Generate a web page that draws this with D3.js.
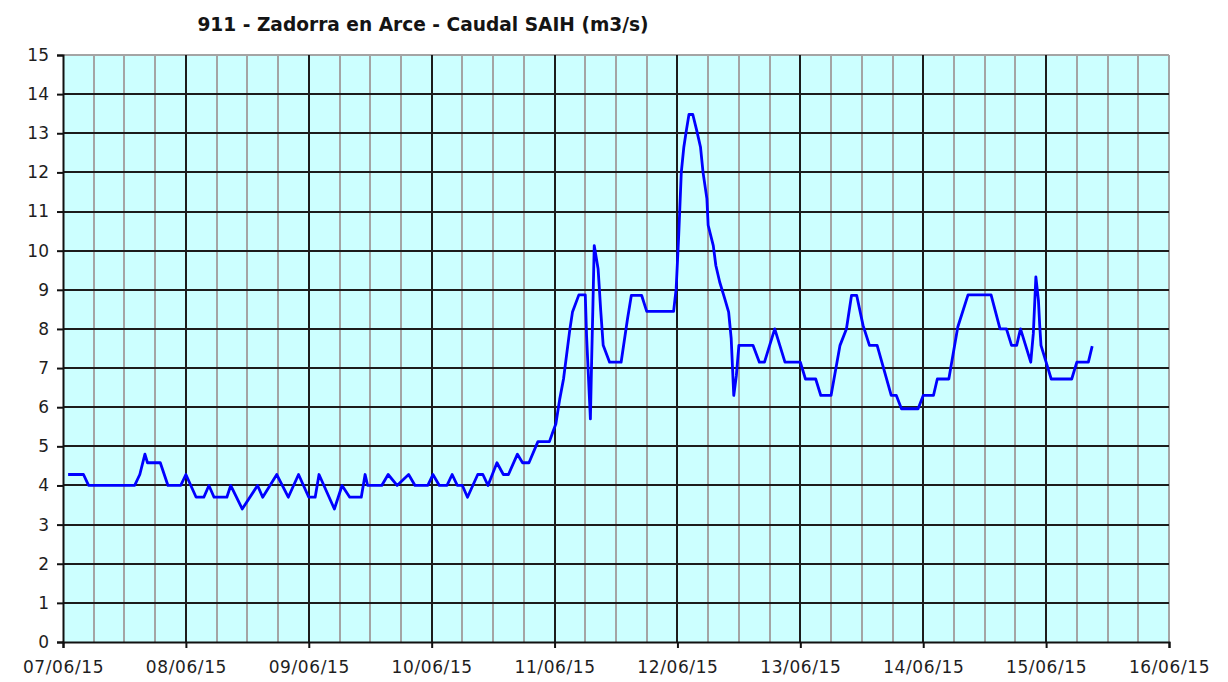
<!DOCTYPE html>
<html>
<head>
<meta charset="utf-8">
<script src="https://cdn.jsdelivr.net/npm/d3@7"></script>
<style>
  body { margin: 0; background: #ffffff; }
  .tick text { font-family: "DejaVu Sans", Verdana, sans-serif; font-size: 17px; fill: #1e1e1e; }
  .xAxis .tick text { letter-spacing: 0.6px; }
</style>
</head>
<body>
<div id="chart"></div>
<script>
// caudal readings (time, m3/s)
var times = [
  "07/06/15 01:00", "07/06/15 04:00", "07/06/15 05:00", "07/06/15 14:00", "07/06/15 15:00",
  "07/06/15 16:00", "07/06/15 16:30", "07/06/15 19:00", "07/06/15 20:30", "07/06/15 23:00",
  "08/06/15 00:00", "08/06/15 02:00", "08/06/15 03:30", "08/06/15 04:30", "08/06/15 05:30",
  "08/06/15 08:00", "08/06/15 08:45", "08/06/15 11:00", "08/06/15 14:00", "08/06/15 15:00",
  "08/06/15 17:45", "08/06/15 20:00", "08/06/15 22:00", "09/06/15 00:00", "09/06/15 01:15",
  "09/06/15 02:00", "09/06/15 05:00", "09/06/15 06:30", "09/06/15 08:00", "09/06/15 10:15",
  "09/06/15 11:00", "09/06/15 11:30", "09/06/15 14:15", "09/06/15 15:30", "09/06/15 17:15",
  "09/06/15 19:30", "09/06/15 20:45", "09/06/15 23:15", "10/06/15 00:15", "10/06/15 01:30",
  "10/06/15 03:00", "10/06/15 04:00", "10/06/15 05:00", "10/06/15 06:00", "10/06/15 07:00",
  "10/06/15 09:00", "10/06/15 10:00", "10/06/15 11:00", "10/06/15 12:45", "10/06/15 14:00",
  "10/06/15 15:00", "10/06/15 16:45", "10/06/15 17:45", "10/06/15 19:00", "10/06/15 20:45",
  "10/06/15 23:00", "10/06/15 23:45", "11/06/15 00:15", "11/06/15 01:00", "11/06/15 01:45",
  "11/06/15 03:00", "11/06/15 03:30", "11/06/15 04:45", "11/06/15 06:00", "11/06/15 06:15",
  "11/06/15 07:00", "11/06/15 07:15", "11/06/15 07:30", "11/06/15 07:45", "11/06/15 08:30",
  "11/06/15 08:45", "11/06/15 09:00", "11/06/15 09:30", "11/06/15 10:45", "11/06/15 13:00",
  "11/06/15 14:15", "11/06/15 15:00", "11/06/15 17:00", "11/06/15 18:00", "11/06/15 23:15",
  "11/06/15 23:45", "12/06/15 00:15", "12/06/15 00:45", "12/06/15 01:15", "12/06/15 01:45",
  "12/06/15 02:15", "12/06/15 03:00", "12/06/15 03:45", "12/06/15 04:30", "12/06/15 05:00",
  "12/06/15 05:45", "12/06/15 06:00", "12/06/15 07:00", "12/06/15 07:30", "12/06/15 08:15",
  "12/06/15 09:15", "12/06/15 10:00", "12/06/15 10:30", "12/06/15 11:00", "12/06/15 11:30",
  "12/06/15 12:00", "12/06/15 14:45", "12/06/15 16:00", "12/06/15 17:00", "12/06/15 19:00",
  "12/06/15 21:00", "13/06/15 00:00", "13/06/15 01:00", "13/06/15 03:00", "13/06/15 04:00",
  "13/06/15 06:00", "13/06/15 07:45", "13/06/15 09:00", "13/06/15 10:00", "13/06/15 11:00",
  "13/06/15 12:15", "13/06/15 13:30", "13/06/15 15:00", "13/06/15 17:45", "13/06/15 18:45",
  "13/06/15 19:45", "13/06/15 23:00", "14/06/15 00:00", "14/06/15 02:00", "14/06/15 02:45",
  "14/06/15 05:00", "14/06/15 06:45", "14/06/15 08:45", "14/06/15 13:15", "14/06/15 15:00",
  "14/06/15 16:15", "14/06/15 17:15", "14/06/15 18:15", "14/06/15 19:00", "14/06/15 21:00",
  "14/06/15 21:30", "14/06/15 21:45", "14/06/15 22:00", "14/06/15 22:30", "14/06/15 22:45",
  "14/06/15 23:00", "15/06/15 00:00", "15/06/15 01:00", "15/06/15 05:00", "15/06/15 06:00",
  "15/06/15 08:15", "15/06/15 09:00"
];
var caudal = [
  4.28, 4.28, 4.0, 4.0, 4.28,
  4.8, 4.58, 4.58, 4.0, 4.0,
  4.28, 3.7, 3.7, 4.0, 3.7,
  3.7, 4.0, 3.4, 4.0, 3.7,
  4.28, 3.7, 4.28, 3.7, 3.7,
  4.28, 3.4, 4.0, 3.7, 3.7,
  4.28, 4.0, 4.0, 4.28, 4.0,
  4.28, 4.0, 4.0, 4.28, 4.0,
  4.0, 4.28, 4.0, 4.0, 3.7,
  4.28, 4.28, 4.0, 4.58, 4.28,
  4.28, 4.8, 4.58, 4.58, 5.12,
  5.12, 5.4, 5.57, 6.2, 6.72,
  8.0, 8.43, 8.87, 8.87, 7.83,
  5.7, 7.24, 8.64, 10.13, 9.54,
  9.03, 8.5, 7.58, 7.15, 7.15,
  8.26, 8.86, 8.86, 8.45, 8.45,
  9.03, 10.4, 12.0, 12.65, 13.08,
  13.48, 13.48, 13.08, 12.65, 12.0,
  11.33, 10.65, 10.13, 9.62, 9.2,
  8.77, 8.43, 7.75, 6.3, 6.8,
  7.58, 7.58, 7.15, 7.15, 8.0,
  7.15, 7.15, 6.72, 6.72, 6.3,
  6.3, 7.58, 8.0, 8.86, 8.86,
  8.09, 7.58, 7.58, 6.3, 6.3,
  5.96, 5.96, 6.3, 6.3, 6.72,
  6.72, 8.05, 8.87, 8.87, 8.0,
  8.0, 7.58, 7.58, 8.0, 7.15,
  7.88, 8.6, 9.33, 8.73, 8.09,
  7.58, 7.15, 6.72, 6.72, 7.15,
  7.15, 7.56
];
var dayTicks = ["07/06/15", "08/06/15", "09/06/15", "10/06/15", "11/06/15",
  "12/06/15", "13/06/15", "14/06/15", "15/06/15", "16/06/15"];
var yTicks = [0, 1, 2, 3, 4, 5, 6, 7, 8, 9, 10, 11, 12, 13, 14, 15];

var width = 1228;
var height = 682;
var margin = { top: 55, right: 59, bottom: 40, left: 63 };
var plotW = width - margin.left - margin.right;
var plotH = height - margin.top - margin.bottom;

var parseTime = d3.timeParse("%d/%m/%y %H:%M");
var parseDay = d3.timeParse("%d/%m/%y");

var data = times.map(function (t, i) {
  return { t: parseTime(t), v: caudal[i] };
});
var days = dayTicks.map(function (d) { return parseDay(d); });

var svg = d3.select("#chart")
  .append("svg")
  .attr("width", width)
  .attr("height", height);

var xScale = d3.scaleTime()
  .domain([days[0], days[days.length - 1]])
  .range([margin.left, width - margin.right]);

var yScale = d3.scaleLinear()
  .domain([0, 15])
  .range([height - margin.bottom, margin.top]);

// plot background
svg.append("rect")
  .attr("x", margin.left)
  .attr("y", margin.top)
  .attr("width", plotW)
  .attr("height", plotH)
  .attr("fill", "#ccffff");

// minor grid every 6 hours, plus the top/right frame in gray
var minor = d3.timeHour.every(6).range(days[0], days[days.length - 1])
  .filter(function (d) { return d.getHours() !== 0; });
minor.push(days[days.length - 1]);
svg.append("g")
  .selectAll("line")
  .data(minor)
  .enter()
  .append("line")
  .attr("x1", function (d) { return Math.round(xScale(d)); })
  .attr("x2", function (d) { return Math.round(xScale(d)); })
  .attr("y1", margin.top)
  .attr("y2", height - margin.bottom)
  .attr("stroke", "#a4a4a4")
  .attr("stroke-width", 2);

svg.append("line")
  .attr("x1", margin.left)
  .attr("x2", width - margin.right)
  .attr("y1", Math.round(yScale(15)))
  .attr("y2", Math.round(yScale(15)))
  .attr("stroke", "#a4a4a4")
  .attr("stroke-width", 2);

// major grid
svg.append("g")
  .selectAll("line")
  .data(days.slice(1, days.length - 1))
  .enter()
  .append("line")
  .attr("x1", function (d) { return Math.round(xScale(d)); })
  .attr("x2", function (d) { return Math.round(xScale(d)); })
  .attr("y1", margin.top)
  .attr("y2", height - margin.bottom)
  .attr("stroke", "#1c1c1c")
  .attr("stroke-width", 2);

svg.append("g")
  .selectAll("line")
  .data(yTicks.slice(1, yTicks.length - 1))
  .enter()
  .append("line")
  .attr("x1", margin.left)
  .attr("x2", width - margin.right)
  .attr("y1", function (d) { return Math.round(yScale(d)); })
  .attr("y2", function (d) { return Math.round(yScale(d)); })
  .attr("stroke", "#1c1c1c")
  .attr("stroke-width", 2);

// axes
var xAxis = d3.axisBottom(xScale)
  .tickValues(days)
  .tickSize(6)
  .tickPadding(13)
  .tickFormat(d3.timeFormat("%d/%m/%y"));

var yAxis = d3.axisLeft(yScale)
  .tickValues(yTicks)
  .tickSize(6)
  .tickPadding(8)
  .tickFormat(d3.format("d"));

function styleAxis(g) {
  g.select(".domain").attr("stroke", "#111").attr("stroke-width", 2);
  g.selectAll(".tick line").attr("stroke", "#111").attr("stroke-width", 2);
}

svg.append("g")
  .attr("class", "xAxis")
  .attr("transform", `translate(0, ${height - margin.bottom})`)
  .call(xAxis)
  .call(styleAxis);

svg.append("g")
  .attr("class", "yAxis")
  .attr("transform", `translate(${margin.left}, 0)`)
  .call(yAxis)
  .call(styleAxis);

// the caudal line
var line = d3.line()
  .x(function (d) { return xScale(d.t); })
  .y(function (d) { return yScale(d.v); });

svg.append("path")
  .datum(data)
  .attr("fill", "none")
  .attr("stroke", "#0000ff")
  .attr("stroke-width", 2.8)
  .attr("stroke-linejoin", "round")
  .attr("d", line);

// title
svg.append("text")
  .attr("x", 423)
  .attr("y", 31)
  .attr("text-anchor", "middle")
  .attr("font-family", "DejaVu Sans, Verdana, sans-serif")
  .attr("font-weight", "bold")
  .attr("font-size", 18.6)
  .attr("fill", "#141414")
  .text("911 - Zadorra en Arce - Caudal SAIH (m3/s)");
</script>
</body>
</html>
